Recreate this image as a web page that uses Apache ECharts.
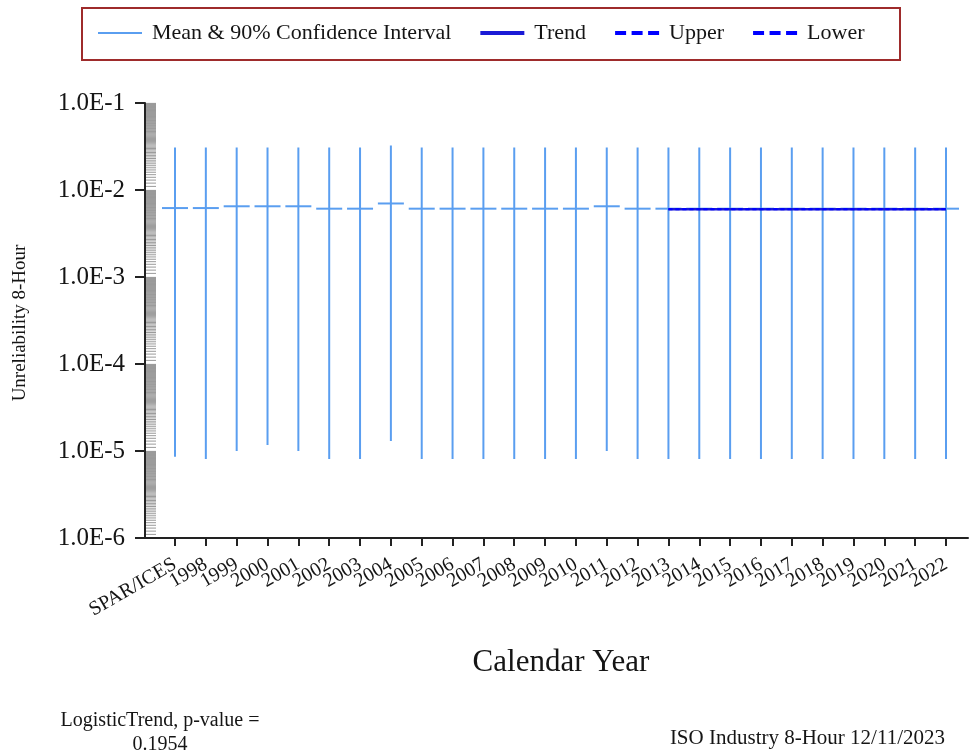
<!DOCTYPE html>
<html><head><meta charset="utf-8">
<script src="https://cdn.jsdelivr.net/npm/echarts@6/dist/echarts.min.js"></script>
<style>html,body{margin:0;padding:0;background:#fff}#c{width:971px;height:756px}</style>
</head><body><div id="c"></div>
<script>
const categories = ['SPAR/ICES','1998','1999','2000','2001','2002','2003','2004','2005','2006','2007','2008','2009','2010','2011','2012','2013','2014','2015','2016','2017','2018','2019','2020','2021','2022'];
const meanValues  = [6.2e-3,6.2e-3,6.5e-3,6.5e-3,6.5e-3,6.1e-3,6.1e-3,7.0e-3,6.1e-3,6.1e-3,6.1e-3,6.1e-3,6.1e-3,6.1e-3,6.5e-3,6.1e-3,6.1e-3,6.1e-3,6.1e-3,6.1e-3,6.1e-3,6.1e-3,6.1e-3,6.1e-3,6.1e-3,6.1e-3];
const upperValues = [3.08e-2,3.08e-2,3.08e-2,3.08e-2,3.08e-2,3.08e-2,3.08e-2,3.24e-2,3.08e-2,3.08e-2,3.08e-2,3.08e-2,3.08e-2,3.08e-2,3.08e-2,3.08e-2,3.08e-2,3.08e-2,3.08e-2,3.08e-2,3.08e-2,3.08e-2,3.08e-2,3.08e-2,3.08e-2,3.08e-2];
const lowerValues = [8.6e-6,8.1e-6,1.0e-5,1.17e-5,1.0e-5,8.1e-6,8.1e-6,1.3e-5,8.1e-6,8.1e-6,8.1e-6,8.1e-6,8.1e-6,8.1e-6,1.0e-5,8.1e-6,8.1e-6,8.1e-6,8.1e-6,8.1e-6,8.1e-6,8.1e-6,8.1e-6,8.1e-6,8.1e-6,8.1e-6];
const trendCategories = ['2013','2014','2015','2016','2017','2018','2019','2020','2021','2022'];
const trendValues      = [6.0e-3,6.0e-3,6.0e-3,6.0e-3,6.0e-3,6.0e-3,6.0e-3,6.0e-3,6.0e-3,6.0e-3];
const trendUpperValues = [6.03e-3,6.03e-3,6.03e-3,6.03e-3,6.03e-3,6.03e-3,6.03e-3,6.03e-3,6.03e-3,6.03e-3];
const trendLowerValues = [5.97e-3,5.97e-3,5.97e-3,5.97e-3,5.97e-3,5.97e-3,5.97e-3,5.97e-3,5.97e-3,5.97e-3];
const yTickLabels = ['1.0E-6','1.0E-5','1.0E-4','1.0E-3','1.0E-2','1.0E-1'];
const yDecades = [-6,-5,-4,-3,-2];

const SERIF = 'Liberation Serif';
const CI_COLOR = '#5a9ef0';
const TREND_COLOR = '#1a1ad6';
const DASH_COLOR = '#0000ff';

const ciData = categories.map((c, i) => [i, lowerValues[i], meanValues[i], upperValues[i]]);
const trendData = trendCategories.map((c, i) => [c, trendValues[i]]);
const upperData = trendCategories.map((c, i) => [c, trendUpperValues[i]]);
const lowerData = trendCategories.map((c, i) => [c, trendLowerValues[i]]);
const dashIcon = 'path://M0,0h11v4h-11z M16.5,0h11v4h-11z M33,0h11v4h-11z';
const logY = {type: 'log', logBase: 10, min: 1e-6, max: 1e-1};

const chart = echarts.init(document.getElementById('c'), null, {renderer: 'canvas'});
chart.setOption({
  animation: false,
  backgroundColor: '#fff',
  grid: [
    {left: 145, top: 103, width: 823, height: 435, containLabel: false},
    {left: 175, top: 103, width: 771, height: 435, containLabel: false}
  ],
  legend: {
    left: 98, top: 22, padding: 0, itemGap: 29, itemWidth: 44, itemHeight: 4,
    symbolKeepAspect: true, selectedMode: false,
    textStyle: {fontFamily: SERIF, fontSize: 22, color: '#151515', padding: [0, 0, 0, 5]},
    data: [
      {name: 'Mean & 90% Confidence Interval', icon: 'path://M0,0h44v2h-44z'},
      {name: 'Trend', icon: 'path://M0,0h44v4h-44z'},
      {name: 'Upper', icon: dashIcon},
      {name: 'Lower', icon: dashIcon}
    ]
  },
  xAxis: [
    {
      gridIndex: 0, type: 'value', min: 0, max: 1,
      splitLine: {show: false},
      axisLine: {show: true, onZero: false, lineStyle: {color: '#222', width: 2}},
      axisTick: {show: false}, axisLabel: {show: false}
    },
    {
      gridIndex: 1, type: 'category', data: categories, boundaryGap: false,
      splitLine: {show: false},
      axisLine: {show: false, onZero: false},
      axisTick: {show: true, length: 8, interval: 0, lineStyle: {color: '#222', width: 2}},
      axisLabel: {
        interval: 0, rotate: 30, margin: 25,
        fontFamily: SERIF, fontSize: 20, color: '#151515'
      }
    }
  ],
  yAxis: [
    Object.assign({
      gridIndex: 0,
      splitLine: {show: false},
      axisLine: {show: true, onZero: false, lineStyle: {color: '#222', width: 2}},
      axisTick: {show: true, length: 10, lineStyle: {color: '#222', width: 2}},
      minorTick: {show: false},
      axisLabel: {
        margin: 20, fontFamily: SERIF, fontSize: 25, color: '#151515',
        formatter: v => yTickLabels[Math.round(Math.log10(v)) + 6] || ''
      }
    }, logY),
    Object.assign({gridIndex: 1, show: false}, logY)
  ],
  series: [
    {
      name: 'minorHatch', type: 'custom', silent: true, z: 1,
      xAxisIndex: 0, yAxisIndex: 0,
      data: yDecades.map(e => [0, e]),
      renderItem: function (params, api) {
        const e = api.value(1);
        const x0 = params.coordSys.x + 1;
        const children = [];
        for (let k = 11; k <= 99; k++) {
          const v = (k / 10) * Math.pow(10, e);
          const y = api.coord([0, v])[1];
          children.push({type: 'line', shape: {x1: x0, y1: y, x2: x0 + 10, y2: y},
            style: {stroke: '#9a9a9a', lineWidth: 1}});
        }
        return {type: 'group', children: children};
      },
      tooltip: {show: false}
    },
    {
      name: 'Mean & 90% Confidence Interval', type: 'custom', z: 2,
      xAxisIndex: 1, yAxisIndex: 1,
      itemStyle: {color: CI_COLOR},
      data: ciData,
      renderItem: function (params, api) {
        const x = api.value(0);
        const pL = api.coord([x, api.value(1)]);
        const pM = api.coord([x, api.value(2)]);
        const pH = api.coord([x, api.value(3)]);
        const st = {stroke: CI_COLOR, lineWidth: 2};
        return {type: 'group', children: [
          {type: 'line', shape: {x1: pL[0], y1: pL[1], x2: pH[0], y2: pH[1]}, style: st},
          {type: 'line', shape: {x1: pM[0] - 13, y1: pM[1], x2: pM[0] + 13, y2: pM[1]}, style: st}
        ]};
      }
    },
    {
      name: 'Trend', type: 'line', z: 3, xAxisIndex: 1, yAxisIndex: 1,
      data: trendData, showSymbol: false, symbol: 'none',
      color: TREND_COLOR, itemStyle: {color: TREND_COLOR},
      lineStyle: {color: TREND_COLOR, width: 2.5}
    },
    {
      name: 'Upper', type: 'line', z: 4, xAxisIndex: 1, yAxisIndex: 1,
      data: upperData, showSymbol: false, symbol: 'none',
      color: DASH_COLOR, itemStyle: {color: DASH_COLOR},
      lineStyle: {color: DASH_COLOR, width: 1.5, type: [4, 3]}
    },
    {
      name: 'Lower', type: 'line', z: 4, xAxisIndex: 1, yAxisIndex: 1,
      data: lowerData, showSymbol: false, symbol: 'none',
      color: DASH_COLOR, itemStyle: {color: DASH_COLOR},
      lineStyle: {color: DASH_COLOR, width: 1.5, type: [4, 3]}
    }
  ],
  graphic: [
    {type: 'rect', shape: {x: 82, y: 8, width: 818, height: 52}, style: {fill: 'none', stroke: '#9e2b2b', lineWidth: 2}, z: 10},
    {type: 'text', x: 561, y: 663, style: {text: 'Calendar Year', font: '31px "Liberation Serif"', fill: '#151515', textAlign: 'center', textVerticalAlign: 'middle'}},
    {type: 'text', x: 20, y: 323, rotation: Math.PI / 2, style: {text: 'Unreliability 8-Hour', font: '19px "Liberation Serif"', fill: '#151515', textAlign: 'center', textVerticalAlign: 'middle'}},
    {type: 'text', x: 160, y: 721, style: {text: 'LogisticTrend, p-value =', font: '20px "Liberation Serif"', fill: '#151515', textAlign: 'center', textVerticalAlign: 'middle'}},
    {type: 'text', x: 160, y: 745, style: {text: '0.1954', font: '20px "Liberation Serif"', fill: '#151515', textAlign: 'center', textVerticalAlign: 'middle'}},
    {type: 'text', x: 945, y: 738, style: {text: 'ISO Industry 8-Hour 12/11/2023', font: '21px "Liberation Serif"', fill: '#151515', textAlign: 'right', textVerticalAlign: 'middle'}}
  ]
});
</script></body></html>
